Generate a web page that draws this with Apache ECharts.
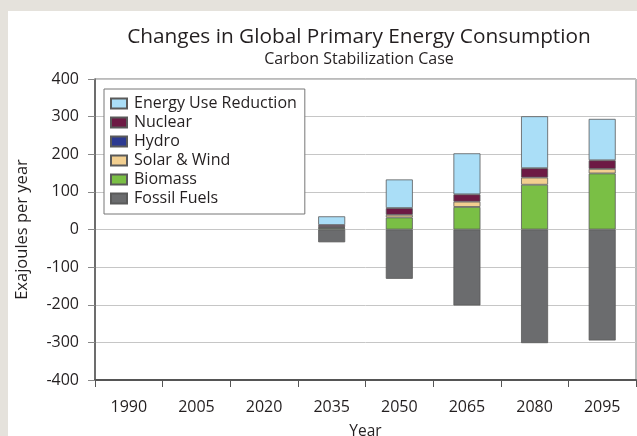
<!DOCTYPE html>
<html>
<head>
<meta charset="utf-8">
<script src="https://cdn.jsdelivr.net/npm/echarts@6/dist/echarts.min.js"></script>
<style>
  html, body { margin: 0; padding: 0; background: #e5e2dc; }
  #chart { position: absolute; left: 8px; top: 11px; width: 629px; height: 425px; background: #fff; }
</style>
</head>
<body>
<div id="chart"></div>
<script>
// years on the x axis
var years = ['1990', '2005', '2020', '2035', '2050', '2065', '2080', '2095'];
// Exajoules per year (null = no bar)
var fossilFuels  = [null, null, null, -34, -131, -202, -302, -295];
var biomass      = [null, null, null, 4, 32, 60, 119, 149];
var solarWind    = [null, null, null, 1, 7, 14, 19, 12];
var hydro        = [null, null, null, 2, null, null, null, null];
var nuclear      = [null, null, null, 5, 18, 19.5, 25, 23];
var useReduction = [null, null, null, 23, 76, 109, 138, 110];

var yMin = -400, yMax = 400, yStep = 100;

var textColor = '#231f20';
var fontFamily = '"Open Sans", "Noto Sans", sans-serif';

function bar(name, data, color) {
  return {
    name: name,
    type: 'bar',
    stack: 'energy',
    barWidth: 27,
    data: data,
    itemStyle: {
      color: color,
      borderColor: '#5a5a5a',
      borderWidth: 0.8
    }
  };
}

var myChart = echarts.init(document.getElementById('chart'));
var option = {
  animation: false,
  textStyle: { fontFamily: fontFamily, color: textColor },
  title: {
    text: 'Changes in Global Primary Energy Consumption',
    subtext: 'Carbon Stabilization Case',
    left: 346,
    textAlign: 'center',
    top: 11,
    itemGap: 3,
    textStyle: { fontFamily: fontFamily, fontSize: 20.8, fontWeight: 'normal', color: textColor },
    subtextStyle: { fontFamily: fontFamily, fontSize: 16, color: textColor }
  },
  legend: {
    orient: 'vertical',
    left: 96,
    top: 78,
    data: ['Energy Use Reduction', 'Nuclear', 'Hydro', 'Solar & Wind', 'Biomass', 'Fossil Fuels'],
    icon: 'rect',
    itemWidth: 16,
    itemHeight: 10,
    itemGap: 0,
    padding: [5, 8, 6, 6],
    borderColor: '#777',
    borderWidth: 1,
    backgroundColor: '#fff',
    textStyle: { fontFamily: fontFamily, fontSize: 16, lineHeight: 19, color: textColor, padding: [0, 0, 0, 2] }
  },
  grid: {
    left: 87,
    right: 1,
    top: 68,
    bottom: 56,
    outerBoundsMode: 'none',
    show: true,
    borderColor: '#777',
    borderWidth: 1
  },
  xAxis: {
    type: 'category',
    data: years,
    name: 'Year',
    nameLocation: 'middle',
    nameGap: 44,
    nameTextStyle: { fontSize: 15.5, color: textColor },
    axisLine: { onZero: false, lineStyle: { color: '#555', width: 2 } },
    axisTick: { show: true, length: 7, lineStyle: { color: '#555' } },
    axisLabel: { fontSize: 16, color: textColor, margin: 19 },
    splitLine: { show: false }
  },
  yAxis: {
    type: 'value',
    min: yMin,
    max: yMax,
    interval: yStep,
    name: 'Exajoules per year',
    nameLocation: 'middle',
    nameGap: 64,
    nameTextStyle: { fontSize: 16.5, color: textColor },
    axisLine: { show: true, lineStyle: { color: '#555', width: 1.5 } },
    axisTick: { show: true, length: 7, lineStyle: { color: '#888' } },
    axisLabel: { fontSize: 16, color: textColor, margin: 16 },
    splitLine: { show: true, lineStyle: { color: '#c6c6c6', width: 1 } }
  },
  series: [
    bar('Fossil Fuels', fossilFuels, '#6b6c6e'),
    bar('Biomass', biomass, '#7abf45'),
    bar('Solar & Wind', solarWind, '#f2cf90'),
    bar('Hydro', hydro, '#2c3a92'),
    bar('Nuclear', nuclear, '#6d1a44'),
    bar('Energy Use Reduction', useReduction, '#aadef7')
  ]
};
myChart.setOption(option);
</script>
</body>
</html>
